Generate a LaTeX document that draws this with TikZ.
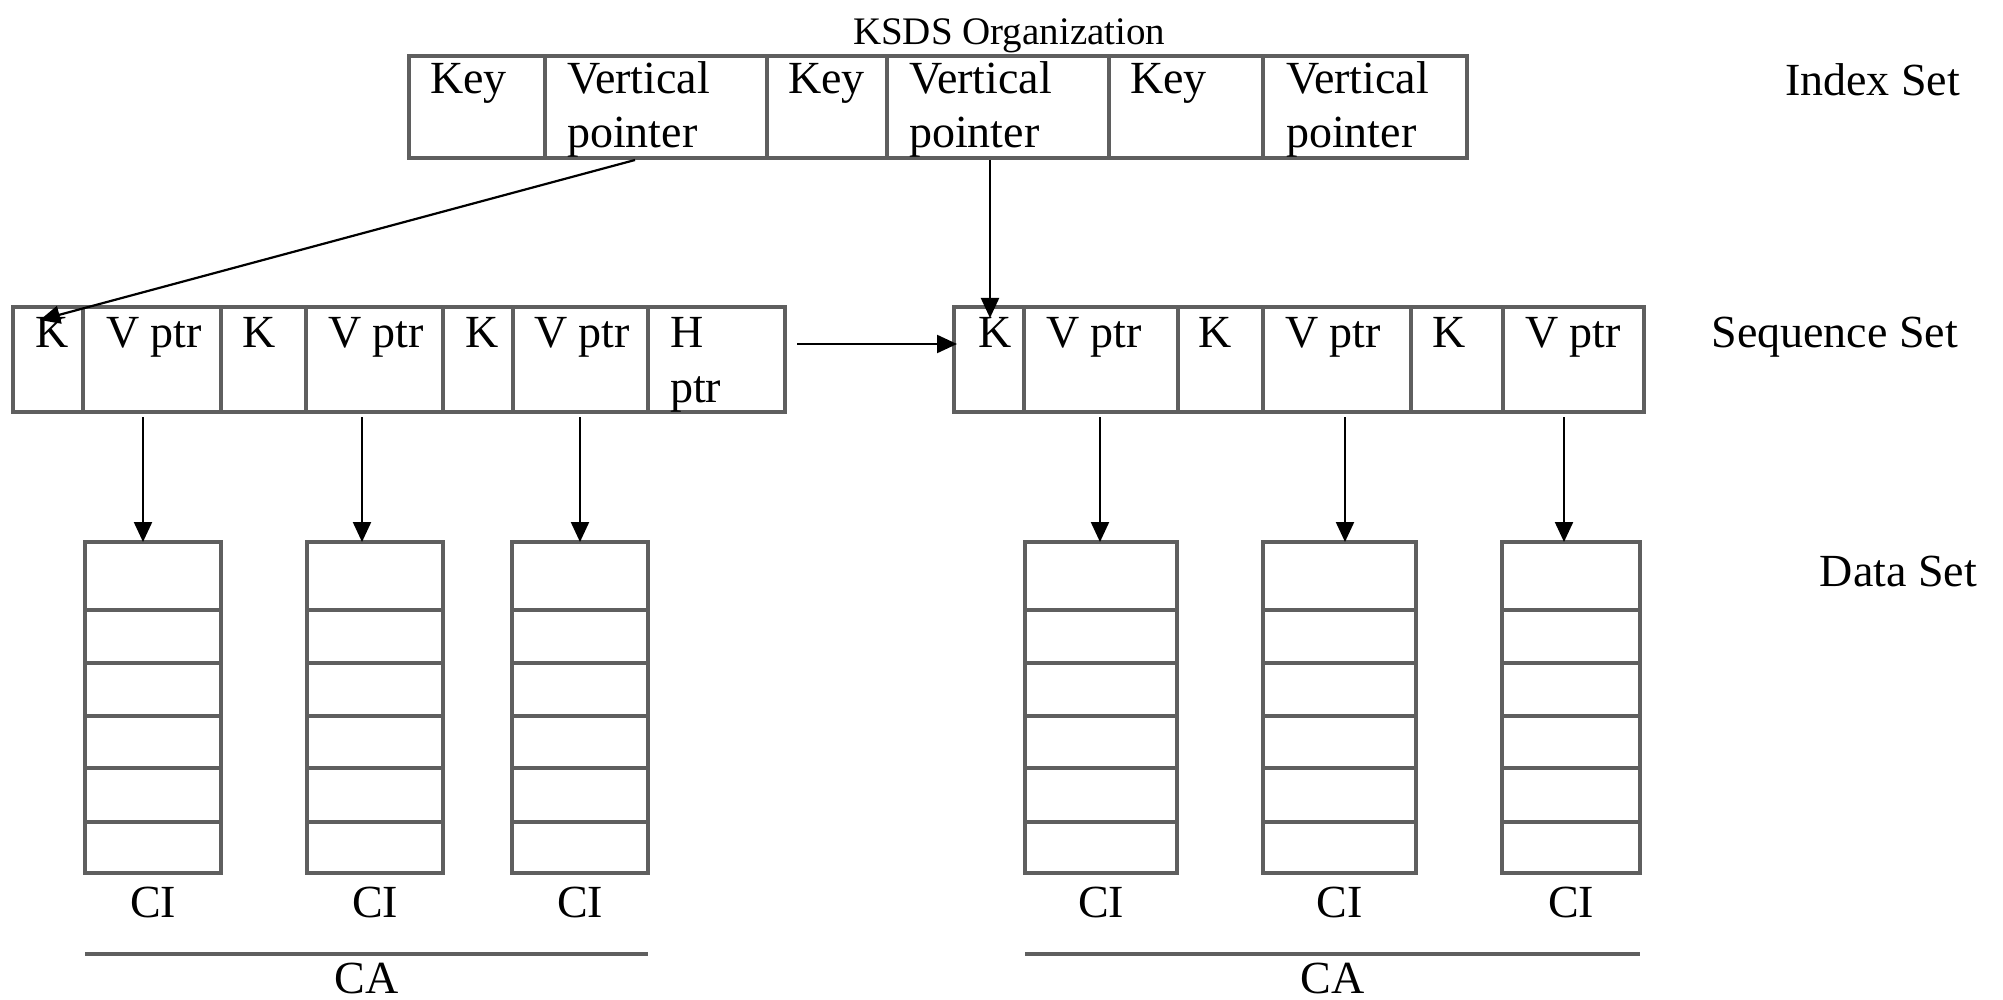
\documentclass[tikz,border=0pt]{standalone}
\usepackage{fontspec}
\setmainfont{Liberation Serif}
\usetikzlibrary{arrows.meta,calc}
\definecolor{linegray}{HTML}{5F5F5F}
\newcommand\mkcell[5]{%
  \pgfmathsetmacro\mycellw{#3-#2}\pgfmathsetmacro\mycellh{#5-#4}%
  \pgfmathsetmacro\mycellx{(#2+#3)/2}\pgfmathsetmacro\mycelly{(#4+#5)/2}%
  \node[cellbox, minimum width=\mycellw pt, minimum height=\mycellh pt] (#1) at (\mycellx,\mycelly) {};}
\newcommand\mkdata[3]{%
  \foreach \ya/\yb [count=\ii] in {542/610,610/663,663/716,716/768,768/822,822/873}{%
    \mkcell{#1-\ii}{#2}{#3}{\ya}{\yb}}}
\begin{document}
\begin{tikzpicture}[x=1pt,y=-1pt,
  cellbox/.style={draw=linegray, line width=3.2pt, inner sep=0pt, outer sep=0pt, rectangle},
  cellline/.style={draw=linegray, line width=3.2pt},
  lbl/.style={inner sep=0pt, outer sep=0pt, anchor=base west, font=\fontsize{46}{54}\selectfont},
  arr/.style={draw=black, line width=2.2pt, -{Triangle[length=20pt,width=18pt]}},
]
\useasboundingbox (0,0) rectangle (2003,1000);
\fill[white] (0,0) rectangle (2003,1000);

% title
\node[lbl, font=\fontsize{39}{44}\selectfont] (title) at (853,45) {KSDS Organization};

% index set
\mkcell{ik1}{409}{545}{56}{158}
\mkcell{iv1}{545}{767}{56}{158}
\mkcell{ik2}{767}{887}{56}{158}
\mkcell{iv2}{887}{1109}{56}{158}
\mkcell{ik3}{1109}{1263}{56}{158}
\mkcell{iv3}{1263}{1467}{56}{158}
\node[lbl] (tik1) at (430,94) {Key};
\node[lbl] (tiv1a) at (567,94) {Vertical};
\node[lbl] (tiv1b) at (567,148) {pointer};
\node[lbl] (tik2) at (788,94) {Key};
\node[lbl] (tiv2a) at (909,94) {Vertical};
\node[lbl] (tiv2b) at (909,148) {pointer};
\node[lbl] (tik3) at (1130,94) {Key};
\node[lbl] (tiv3a) at (1286,94) {Vertical};
\node[lbl] (tiv3b) at (1286,148) {pointer};

% sequence set left
\mkcell{sk1}{13}{83}{307}{412}
\mkcell{sv1}{83}{221}{307}{412}
\mkcell{sk2}{221}{306}{307}{412}
\mkcell{sv2}{306}{443}{307}{412}
\mkcell{sk3}{443}{513}{307}{412}
\mkcell{sv3}{513}{648}{307}{412}
\mkcell{sh}{648}{785}{307}{412}
\node[lbl] (tsk1) at (35,348) {K};
\node[lbl] (tsv1) at (106,348) {V ptr};
\node[lbl] (tsk2) at (242,348) {K};
\node[lbl] (tsv2) at (328,348) {V ptr};
\node[lbl] (tsk3) at (465,348) {K};
\node[lbl] (tsv3) at (534,348) {V ptr};
\node[lbl] (tsha) at (670,348) {H};
\node[lbl] (tshb) at (670,402) {ptr};

% sequence set right
\mkcell{rk1}{954}{1024}{307}{412}
\mkcell{rv1}{1024}{1178}{307}{412}
\mkcell{rk2}{1178}{1263}{307}{412}
\mkcell{rv2}{1263}{1411}{307}{412}
\mkcell{rk3}{1411}{1503}{307}{412}
\mkcell{rv3}{1503}{1644}{307}{412}
\node[lbl] (trk1) at (978,348) {K};
\node[lbl] (trv1) at (1046,348) {V ptr};
\node[lbl] (trk2) at (1198,348) {K};
\node[lbl] (trv2) at (1285,348) {V ptr};
\node[lbl] (trk3) at (1432,348) {K};
\node[lbl] (trv3) at (1525,348) {V ptr};

% data set
\mkdata{d1}{85}{221}
\mkdata{d2}{307}{443}
\mkdata{d3}{512}{648}
\mkdata{d4}{1025}{1177}
\mkdata{d5}{1263}{1416}
\mkdata{d6}{1502}{1640}

% CI labels
\node[lbl, anchor=base] (ci1) at ([yshift=-44pt]d1-6.south) {CI};
\node[lbl, anchor=base] (ci2) at ([yshift=-44pt]d2-6.south) {CI};
\node[lbl, anchor=base] (ci3) at ([yshift=-44pt]d3-6.south) {CI};
\node[lbl, anchor=base] (ci4) at ([yshift=-44pt]d4-6.south) {CI};
\node[lbl, anchor=base] (ci5) at ([yshift=-44pt]d5-6.south) {CI};
\node[lbl, anchor=base] (ci6) at ([yshift=-44pt]d6-6.south) {CI};

% CA lines
\coordinate (ca1s) at ([yshift=-81pt]d1-6.south west);
\coordinate (ca1e) at ([yshift=-81pt]d3-6.south east);
\coordinate (ca2s) at ([yshift=-81pt]d4-6.south west);
\coordinate (ca2e) at ([yshift=-81pt]d6-6.south east);
\draw[cellline] (ca1s) -- (ca1e);
\draw[cellline] (ca2s) -- (ca2e);
\coordinate (ca1m) at ($(ca1s)!0.5!(ca1e)+(0,39)$);
\coordinate (ca2m) at ($(ca2s)!0.5!(ca2e)+(0,39)$);
\node[lbl, anchor=base] (ca1) at (ca1m) {CA};
\node[lbl, anchor=base] (ca2) at (ca2m) {CA};

% right labels
\node[lbl, anchor=base east] (lidx) at (1960,96) {Index Set};
\node[lbl, anchor=base east] (lseq) at (1958,348) {Sequence Set};
\node[lbl, anchor=base east] (ldat) at (1977,586) {Data Set};

% arrows
\draw[arr] ([xshift=-21pt,yshift=-2pt]iv1.south) -- ([xshift=-8pt,yshift=-13pt]sk1.north);
\draw[arr] ([xshift=-8pt,yshift=-2pt]iv2.south) -- ([xshift=1pt,yshift=-11pt]rk1.north);
\draw[arr] ([xshift=12pt,yshift=15.5pt]sh.east) -- ([xshift=3pt,yshift=15.5pt]rk1.west);
\draw[arr] ([xshift=-9pt,yshift=-5pt]sv1.south) -- ([xshift=-10pt]d1-1.north);
\draw[arr] ([xshift=-12.5pt,yshift=-5pt]sv2.south) -- ([xshift=-13pt]d2-1.north);
\draw[arr] ([xshift=-0.5pt,yshift=-5pt]sv3.south) -- ([xshift=0pt]d3-1.north);
\draw[arr] ([xshift=-1pt,yshift=-5pt]rv1.south) -- ([xshift=-1pt]d4-1.north);
\draw[arr] ([xshift=8pt,yshift=-5pt]rv2.south) -- ([xshift=5.5pt]d5-1.north);
\draw[arr] ([xshift=-9.5pt,yshift=-5pt]rv3.south) -- ([xshift=-7pt]d6-1.north);
\end{tikzpicture}
\end{document}
